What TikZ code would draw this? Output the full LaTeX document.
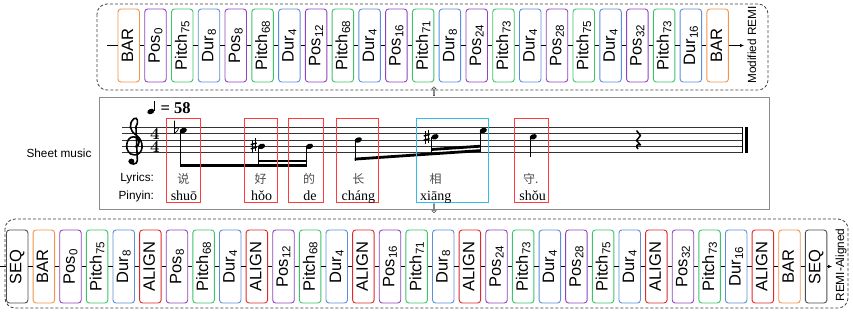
\documentclass[tikz,border=0pt]{standalone}
\usepackage{fontspec}
\setsansfont{Liberation Sans}
\newfontfamily\pyfont{Liberation Serif}
\newfontfamily\cjk{Noto Sans CJK SC}
\definecolor{barc}{HTML}{F0954A}
\definecolor{posc}{HTML}{8E44C0}
\definecolor{pitc}{HTML}{3CC46A}
\definecolor{durc}{HTML}{5B8FD9}
\definecolor{alic}{HTML}{DD2A2A}
\definecolor{seqc}{HTML}{4D4D4D}
\definecolor{hlred}{HTML}{FF3B3B}
\definecolor{hlblue}{HTML}{33BBEE}
\usetikzlibrary{arrows.meta, positioning, shapes.arrows}

\begin{document}
\begin{tikzpicture}[x=1pt,y=-1pt,
    tok/.style={draw=#1,fill=white,rounded corners=3pt,line width=0.9pt,rotate=90,minimum width=73pt,minimum height=21.5pt,inner sep=0pt,font=\sffamily\fontsize{16.5}{16.5}\selectfont},
    lbl/.style={font=\sffamily\fontsize{11.8}{12}\selectfont},
    grp/.style={draw=black!75,line width=0.8pt,dash pattern=on 3pt off 2pt,rounded corners=10pt},
    conn/.style={line width=0.6pt},
    hl/.style={draw=#1,line width=0.9pt},
    hollow/.style={single arrow,draw=black!70,fill=white,line width=0.5pt,minimum height=9pt,minimum width=3pt,single arrow head extend=1.5pt,inner sep=0.4pt},
    tsig/.style={font=\bfseries\fontsize{17}{17}\selectfont,inner sep=0pt},
    stem/.style={line width=0.8pt}]
  \useasboundingbox (0,0) rectangle (853,325);

  % modified REMI
  \draw[grp] (97,4) rectangle (768,90);
  \foreach \n/\s/\c [count=\i] in {BAR/{}/barc,Pos/0/posc,Pitch/75/pitc,Dur/8/durc,Pos/8/posc,Pitch/68/pitc,Dur/4/durc,Pos/12/posc,Pitch/68/pitc,Dur/4/durc,Pos/16/posc,Pitch/71/pitc,Dur/8/durc,Pos/24/posc,Pitch/73/pitc,Dur/4/durc,Pos/28/posc,Pitch/75/pitc,Dur/4/durc,Pos/32/posc,Pitch/73/pitc,Dur/16/durc,BAR/{}/barc}
    \node[tok=\c] (t\i) at ({128.7+(\i-1)*26.77},45.5) {\n\textsubscript{\s}};
  \foreach \i [count=\j from 2] in {1,...,22}
    \draw[conn] (t\i) -- (t\j);
  \coordinate (tin) at (107,45.5);
  \coordinate (tout) at (744,45.5);
  \draw[conn] (tin) -- (t1);
  \draw[conn,-{Latex[length=4pt,width=3.5pt]}] (t23) -- (tout);
  \node[lbl,rotate=90] (remi) at (752,45) {Modified REMI};

  % sheet music
  \node[draw=black!45,line width=0.9pt,minimum width=670pt,minimum height=112pt,inner sep=0pt] (sheet) at (434,153) {};
  \node[lbl,anchor=base] (shl) at (59,157.7) {Sheet music};
  \node[hollow,shape border rotate=90] (up) at (434,91.5) {};
  \node[hollow,shape border rotate=270] (down) at (434,208) {};
  \foreach \k in {0,...,4}
    \draw[line width=0.6pt,black!80] (122,{127.3+\k*6.35}) -- (742,{127.3+\k*6.35});
  \draw[line width=0.6pt] (742,127.3) -- (742,152.7);
  \draw[line width=2.4pt] (746.5,127.3) -- (746.5,152.7);
  \begin{scope}[shift={(133.5,146.35)},x=7pt,y=6.35pt]
    \draw[line width=1.6pt,line cap=round]
      (0.25,-0.05) .. controls (1.0,-0.05) and (1.05,1.45) .. (0.0,1.5)
      .. controls (-1.2,1.55) and (-1.45,-1.3) .. (0.15,-1.35)
      .. controls (1.5,-1.35) and (1.6,0.9) .. (0.35,1.8)
      .. controls (-0.6,2.5) and (-0.7,3.6) .. (0.05,4.35)
      .. controls (0.55,4.75) and (0.8,3.8) .. (0.35,3.1)
      -- (0.55,-2.2)
      .. controls (0.6,-2.95) and (-0.55,-2.95) .. (-0.6,-2.35);
    \fill (-0.3,-2.35) circle (0.42);
  \end{scope}
  \node[tsig,anchor=base] (tsa) at (155,139.2) {4};
  \node[tsig,anchor=base] (tsb) at (155,152.2) {4};
  % tempo
  \fill[shift={(150.8,111.5)},rotate=20] (0,0) ellipse [x radius=3.6pt,y radius=2.6pt];
  \draw[stem] (154.2,110.5) -- (154.2,100.5);
  \node[font=\pyfont\bfseries\fontsize{16.5}{16.5}\selectfont,anchor=base west,inner sep=0pt] (tempo) at (160.5,113) {= 58};
  % notes
  \foreach \x/\y in {183.3/130.5,261.5/146.35,309.5/146.35,358.3/140,435/136.8,483.3/130.5,533.3/136.8}
    \fill[shift={(\x,\y)},rotate=20] (0,0) ellipse [x radius=3.7pt,y radius=2.6pt];
  \foreach \x/\a/\b in {180/131/167,258.2/147/167,306.2/147/167,355/140.5/160.5,431.7/137.3/155.3,480/131/152,530/137.3/157}
    \draw[stem] (\x,\a) -- (\x,\b);
  \fill (179.6,164) rectangle (306.6,167);
  \fill (257.8,159.6) rectangle (306.6,162.4);
  \fill (354.6,160.5) -- (480.4,152) -- (480.4,149.2) -- (354.6,157.7) -- cycle;
  \fill (431.3,150.9) -- (480.4,147.6) -- (480.4,144.8) -- (431.3,148.1) -- cycle;
  % accidentals
  \draw[line width=0.7pt] (174.5,120.5) -- (174.5,133.3) .. controls (180.5,129) and (179,125.5) .. (174.5,128.8);
  \foreach \sx/\sy in {253.7/145.8,426.7/137.2} {
    \draw[line width=0.6pt] ({\sx-1.2},{\sy-6}) -- ({\sx-1.2},{\sy+7});
    \draw[line width=0.6pt] ({\sx+1.2},{\sy-7.5}) -- ({\sx+1.2},{\sy+5.5});
    \draw[line width=1.4pt] ({\sx-3},{\sy-1.2}) -- ({\sx+3},{\sy-2.8});
    \draw[line width=1.4pt] ({\sx-3},{\sy+3}) -- ({\sx+3},{\sy+1.4});
  }
  % rest
  \draw[line width=1.5pt,line join=round] (636.5,130.5) -- (640.5,135.5) -- (636.5,140.5) -- (640.5,145) .. controls (636.5,143.5) and (635.5,146.5) .. (638,149);
  % lyrics
  \node[lbl,anchor=base east] (lyl) at (157.5,181) {Lyrics:};
  \node[lbl,anchor=base east] (pyl) at (157.5,199.5) {Pinyin:};
  \foreach \a/\b in {166/200,244.3/277.7,288.7/323.3,336.7/378.3,514/548.3}
    \draw[hl=hlred] (\a,118.3) rectangle (\b,202.7);
  \draw[hl=hlblue] (416,118.3) rectangle (488.3,202.7);
  \foreach \w/\x [count=\i] in {说/183.3,好/260.7,的/309,长/358.3,相/435.7,守./530.7}
    \node[font=\cjk\fontsize{12}{12}\selectfont,text=black!70,inner sep=0pt] (ly\i) at (\x,179.3) {\w};
  \foreach \p/\x [count=\i] in {shuō/184,hǒo/261.7,de/310,cháng/358.3,xiāng/435.7,shǒu/532.7}
    \node[font=\pyfont\fontsize{14}{14}\selectfont,anchor=base,inner sep=0pt] (py\i) at (\x,200) {\p};

  % REMI-Aligned
  \draw[grp] (5,219) rectangle (848,308);
  \foreach \n/\s/\c [count=\i] in {SEQ/{}/seqc,BAR/{}/barc,Pos/0/posc,Pitch/75/pitc,Dur/8/durc,ALIGN/{}/alic,Pos/8/posc,Pitch/68/pitc,Dur/4/durc,ALIGN/{}/alic,Pos/12/posc,Pitch/68/pitc,Dur/4/durc,ALIGN/{}/alic,Pos/16/posc,Pitch/71/pitc,Dur/8/durc,ALIGN/{}/alic,Pos/24/posc,Pitch/73/pitc,Dur/4/durc,Pos/28/posc,Pitch/75/pitc,Dur/4/durc,ALIGN/{}/alic,Pos/32/posc,Pitch/73/pitc,Dur/16/durc,ALIGN/{}/alic,BAR/{}/barc,SEQ/{}/seqc}
    \node[tok=\c] (b\i) at ({17.2+(\i-1)*26.63},266.5) {\n\textsubscript{\s}};
  \foreach \i [count=\j from 2] in {1,...,30}
    \draw[conn] (b\i) -- (b\j);
  \coordinate (bin) at (0,266.5);
  \coordinate (bout) at (832,266.5);
  \draw[conn] (bin) -- (b1);
  \draw[conn,-{Latex[length=4pt,width=3.5pt]}] (b31) -- (bout);
  \node[lbl,rotate=90] (ali) at (841,265) {REMI-Aligned};
\end{tikzpicture}
\end{document}
